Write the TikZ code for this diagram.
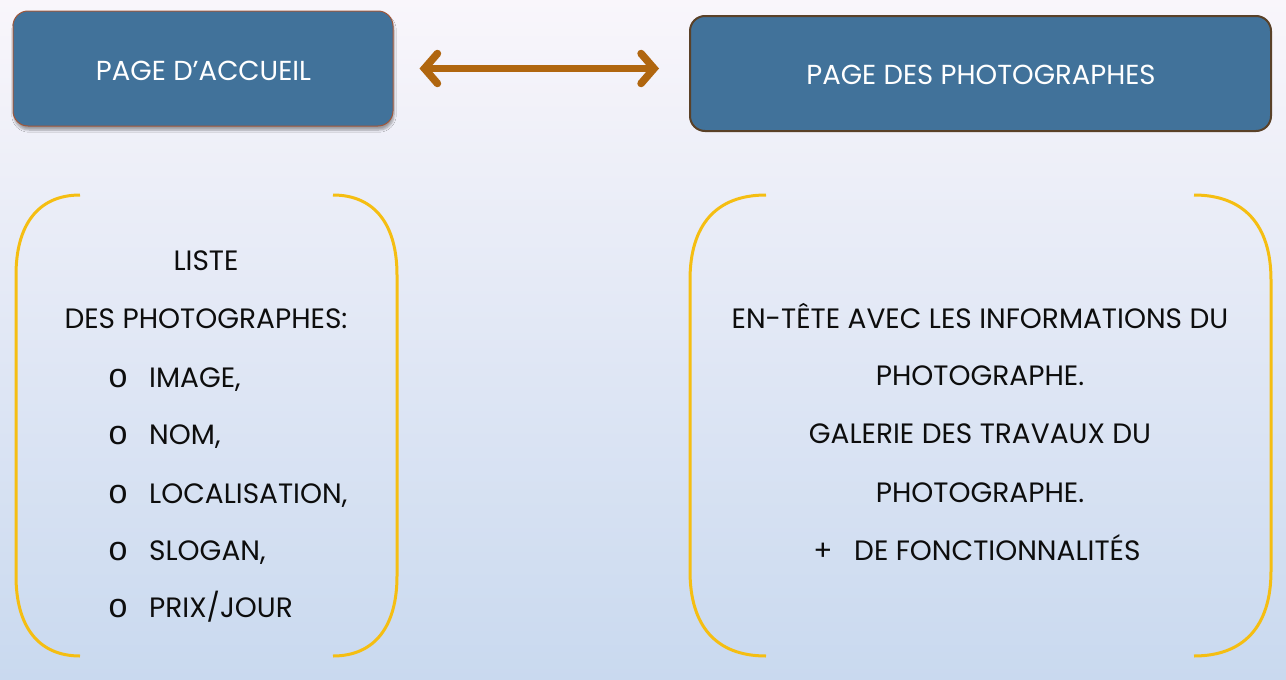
\documentclass[tikz,border=0pt]{standalone}
\usepackage{fontspec}
\setmainfont{Poppins}
\newfontfamily\bulletfont{Liberation Mono}
\usetikzlibrary{arrows.meta,shadows.blur}
\definecolor{bgtop}{HTML}{F9F6FB}
\definecolor{bgbot}{HTML}{C9D9EF}
\definecolor{boxfill}{HTML}{41729A}
\definecolor{boxedgeA}{HTML}{A0573A}
\definecolor{boxedgeB}{HTML}{5A4128}
\definecolor{arrowc}{HTML}{B0660F}
\definecolor{gold}{HTML}{F5BE12}
\definecolor{ink}{HTML}{0D0D0D}
\tikzset{
  pagebox/.style={draw, fill=boxfill, rounded corners=15pt, inner sep=0pt,
    minimum height=115pt},
  txt/.style={anchor=base, inner sep=0pt, text=ink, font=\fontsize{28}{32}\selectfont},
  boxtxt/.style={txt, text=white, font=\fontsize{27.5}{32}\selectfont},
  itm/.style={txt, anchor=base west},
  bul/.style={txt, anchor=base, font=\bulletfont\fontsize{34}{36}\selectfont},
  paren/.style={draw=gold, line width=3pt, line cap=butt},
  dblarrow/.style={draw=arrowc, line width=7.5pt,
    {Straight Barb[length=13pt,width=30pt,line cap=round,line join=miter]}-{Straight Barb[length=13pt,width=30pt,line cap=round,line join=miter]}}
}
\begin{document}
\begin{tikzpicture}[x=1pt,y=-1pt]
\useasboundingbox (0,0) rectangle (1286,680);
\shade[top color=bgtop, bottom color=bgbot] (0,0) rectangle (1286,680);

% boxes
\node[pagebox, draw=boxedgeA, line width=1pt, minimum width=380pt,
  blur shadow={shadow xshift=1pt, shadow yshift=-4pt, shadow opacity=35, shadow blur steps=6}]
  (accueil) at (203,68.5) {};
\node[boxtxt] (accueilT) at (203.5,80) {PAGE D’ACCUEIL};
\node[pagebox, draw=boxedgeB, line width=2pt, minimum width=581pt] (photo) at (980.5,73.5) {};
\node[boxtxt] (photoT) at (981,84) {PAGE DES PHOTOGRAPHES};

% arrow
\draw[dblarrow, shorten <=26pt, shorten >=30pt] (accueil.east) -- (accueil.east -| photo.west);

% left brackets
\draw[paren] (80,195) .. controls (38,195) and (16,225) .. (16,275) -- (16,576) .. controls (16,626) and (38,656) .. (80,656);
\draw[paren] (333,195) .. controls (375,195) and (397,225) .. (397,275) -- (397,576) .. controls (397,626) and (375,656) .. (333,656);
% right brackets
\draw[paren] (766,195) .. controls (716,195) and (690,225) .. (690,280) -- (690,571) .. controls (690,626) and (716,656) .. (766,656);
\draw[paren] (1194,195) .. controls (1244,195) and (1271,225) .. (1271,280) -- (1271,571) .. controls (1271,626) and (1244,656) .. (1194,656);

% left text
\node[txt] (l1) at (206,270) {LISTE};
\node[txt] (l2) at (206,328) {DES PHOTOGRAPHES:};
\node[bul] (b1) at (118,387) {o};
\node[itm] (i1) at (149,387) {IMAGE,};
\node[bul] (b2) at (118,444) {o};
\node[itm] (i2) at (149,444) {NOM,};
\node[bul] (b3) at (118,503) {o};
\node[itm] (i3) at (149,503) {LOCALISATION,};
\node[bul] (b4) at (118,560) {o};
\node[itm] (i4) at (149,560) {SLOGAN,};
\node[bul] (b5) at (118,617) {o};
\node[itm] (i5) at (149,617) {PRIX/JOUR};

% right text
\node[txt] (r1) at (980,328) {EN-TÊTE AVEC LES INFORMATIONS DU};
\node[txt] (r2) at (980,385) {PHOTOGRAPHE.};
\node[txt] (r3) at (980,443) {GALERIE DES TRAVAUX DU};
\node[txt] (r4) at (980,502) {PHOTOGRAPHE.};
\node[txt] (r5p) at (823,560) {+};
\node[itm] (r5) at (854,560) {DE FONCTIONNALITÉS};
\end{tikzpicture}
\end{document}
